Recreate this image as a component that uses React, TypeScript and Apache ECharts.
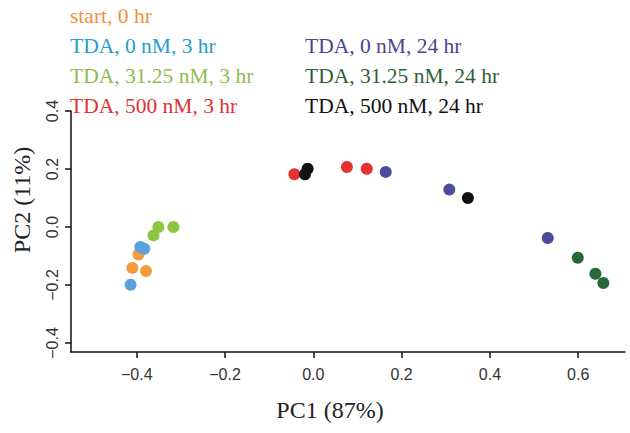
import React, { useEffect, useRef } from "react";
import * as echarts from "echarts";

const startHr0 = [[-0.396, -0.095], [-0.41, -0.141], [-0.379, -0.152]];
const tda0nM3hr = [[-0.392, -0.069], [-0.383, -0.075], [-0.414, -0.199]];
const tda3125nM3hr = [[-0.351, 0.0], [-0.317, 0.0], [-0.362, -0.029]];
const tda500nM3hr = [[-0.043, 0.182], [0.076, 0.207], [0.121, 0.201]];
const tda0nM24hr = [[0.164, 0.19], [0.308, 0.129], [0.531, -0.038]];
const tda3125nM24hr = [[0.599, -0.106], [0.639, -0.161], [0.657, -0.193]];
const tda500nM24hr = [[-0.013, 0.201], [-0.019, 0.182], [0.35, 0.1]];

const xTicks = [-0.4, -0.2, 0.0, 0.2, 0.4, 0.6];
const yTicks = [-0.4, -0.2, 0.0, 0.2, 0.4];

const seriesDefs = [
  { name: "start, 0 hr", data: startHr0, color: "#F29B3F", text: "#F0923C" },
  { name: "TDA, 0 nM, 3 hr", data: tda0nM3hr, color: "#5BA3DD", text: "#22A0D2" },
  { name: "TDA, 31.25 nM, 3 hr", data: tda3125nM3hr, color: "#8CC63F", text: "#8DBD4C" },
  { name: "TDA, 500 nM, 3 hr", data: tda500nM3hr, color: "#E5312F", text: "#E03232" },
  { name: "TDA, 0 nM, 24 hr", data: tda0nM24hr, color: "#4D4B9E", text: "#4B4592" },
  { name: "TDA, 31.25 nM, 24 hr", data: tda3125nM24hr, color: "#27693A", text: "#2E6234" },
  { name: "TDA, 500 nM, 24 hr", data: tda500nM24hr, color: "#111111", text: "#111111" },
];

const legendPos = [
  [70, 17], [70, 47], [70, 77], [70, 107],
  [305, 47], [305, 77], [305, 107],
];

export default function App() {
  const ref = useRef<HTMLDivElement>(null);
  useEffect(() => {
    const chart = echarts.init(ref.current!, null, { renderer: "svg" });
    const serif = "'Liberation Serif', 'Times New Roman', serif";
    const sans = "'Liberation Sans', Arial, sans-serif";
    chart.setOption({
      animation: false,
      backgroundColor: "#ffffff",
      grid: { left: 71, right: 5, top: 111, bottom: 81 },
      xAxis: {
        type: "value",
        min: -0.549,
        max: 0.706,
        splitLine: { show: false },
        axisLine: { show: true, onZero: false, lineStyle: { color: "#111", width: 1.5 } },
        axisTick: { show: true, customValues: xTicks, length: 6, lineStyle: { color: "#111", width: 1.5 } },
        axisLabel: {
          customValues: xTicks,
          formatter: (v: number) => (v < 0 ? "\u2212" : "") + Math.abs(v).toFixed(1),
          fontFamily: sans,
          fontSize: 16,
          color: "#333",
          margin: 14,
        },
      },
      yAxis: {
        type: "value",
        min: -0.431,
        max: 0.4,
        splitLine: { show: false },
        axisLine: { show: true, onZero: false, lineStyle: { color: "#111", width: 1.5 } },
        axisTick: { show: true, customValues: yTicks, length: 6, lineStyle: { color: "#111", width: 1.5 } },
        axisLabel: {
          customValues: yTicks,
          rotate: 90,
          formatter: (v: number) => (v < 0 ? "\u2212" : "") + Math.abs(v).toFixed(1),
          fontFamily: sans,
          fontSize: 16,
          color: "#333",
          margin: 11,
        },
      },
      series: seriesDefs.map((s) => ({
        type: "scatter",
        name: s.name,
        data: s.data,
        symbolSize: 12,
        itemStyle: { color: s.color, opacity: 1 },
      })),
      graphic: [
        ...seriesDefs.map((s, i) => ({
          type: "text",
          left: legendPos[i][0],
          top: legendPos[i][1] - 12,
          style: { text: s.name, fill: s.text, font: `21.5px ${serif}` },
        })),
        {
          type: "text",
          x: 330,
          y: 410,
          style: { text: "PC1 (87%)", fill: "#222", font: `24px ${serif}`, align: "center", verticalAlign: "middle" },
        },
        {
          type: "text",
          x: 22,
          y: 200,
          rotation: Math.PI / 2,
          style: { text: "PC2 (11%)", fill: "#222", font: `24px ${serif}`, align: "center", verticalAlign: "middle" },
        },
      ],
    });
    return () => chart.dispose();
  }, []);
  return <div ref={ref} style={{ width: 630, height: 433, position: "absolute", left: 0, top: 0 }} />;
}
